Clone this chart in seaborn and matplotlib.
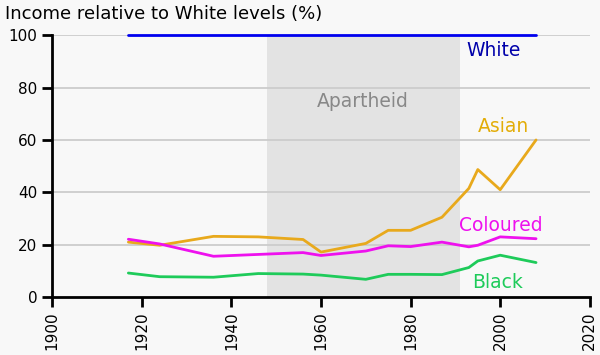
import numpy as np
import pandas as pd
import matplotlib
matplotlib.use('Agg')
import matplotlib.pyplot as plt
import seaborn as sns

# values
years = [1917, 1924, 1936, 1946, 1956, 1960, 1970, 1975, 1980, 1987, 1993, 1995, 2000, 2008]
white = [100, 100, 100, 100, 100, 100, 100, 100, 100, 100, 100, 100, 100, 100]
asian = [21.0, 19.8, 23.2, 23.0, 22.0, 17.2, 20.5, 25.5, 25.5, 30.5, 41.5, 48.7, 41.0, 60.0]
coloured = [22.1, 20.3, 15.6, 16.3, 17.0, 15.9, 17.6, 19.6, 19.3, 21.0, 19.2, 19.8, 23.0, 22.3]
black = [9.2, 7.8, 7.6, 9.0, 8.8, 8.4, 6.8, 8.7, 8.7, 8.6, 11.3, 13.8, 16.0, 13.2]

groups = ['White', 'Asian', 'Coloured', 'Black']
line_colors = {'White': '#0000ee', 'Asian': '#e8a91c', 'Coloured': '#ee11ee', 'Black': '#1ecb5a'}
text_colors = {'White': '#0000aa', 'Asian': '#e3ad08', 'Coloured': '#ee11ee', 'Black': '#1ecb5a'}
label_pos = {'White': (1998.6, 94.3), 'Asian': (2000.8, 65.3), 'Coloured': (2000.2, 27.5), 'Black': (1999.5, 5.7)}

apartheid = (1948, 1991)

df = pd.DataFrame({'year': years, 'White': white, 'Asian': asian,
                   'Coloured': coloured, 'Black': black})
long = df.melt(id_vars='year', var_name='group', value_name='pct')

sns.set_style('white')
plt.rcParams['font.family'] = ['DejaVu Sans']

fig = plt.figure(figsize=(6, 3.55), dpi=100, facecolor='#f8f8f8')
ax = fig.add_axes([0.087, 0.163, 0.896, 0.738])
ax.set_facecolor('#f8f8f8')

ax.axvspan(apartheid[0], apartheid[1], ymin=0, ymax=0.995, color='#e3e3e3', zorder=0.5, lw=0)
for v in range(20, 101, 20):
    ax.axhline(v, color='#cccccc', lw=1.3, zorder=1)

sns.lineplot(data=long, x='year', y='pct', hue='group', hue_order=groups,
             palette=line_colors, lw=2, ax=ax, legend=False, zorder=3, clip_on=False)

for g in groups:
    x, y = label_pos[g]
    ax.text(x, y, g, color=text_colors[g], fontsize=13.5, ha='center', va='center', zorder=4)
ax.text(1969.4, 74.8, 'Apartheid', color='#888888', fontsize=13.5, ha='center', va='center', zorder=4)

ax.set_xlim(1900, 2020)
ax.set_ylim(0, 100)
ax.set_xticks(range(1900, 2021, 20))
ax.set_yticks(range(0, 101, 20))
ax.tick_params(axis='x', labelrotation=90)
ax.tick_params(direction='out', length=7, width=2, color='black', labelcolor='black',
               labelsize=11, bottom=True, left=True)
ax.set_xlabel('')
ax.set_ylabel('')
sns.despine(ax=ax)
for s in ['left', 'bottom']:
    ax.spines[s].set_linewidth(2)
    ax.spines[s].set_color('black')

fig.text(0.008, 0.96, 'Income relative to White levels (%)', fontsize=13, color='black',
         ha='left', va='center')

fig.savefig('out.png', dpi=100, facecolor=fig.get_facecolor())
